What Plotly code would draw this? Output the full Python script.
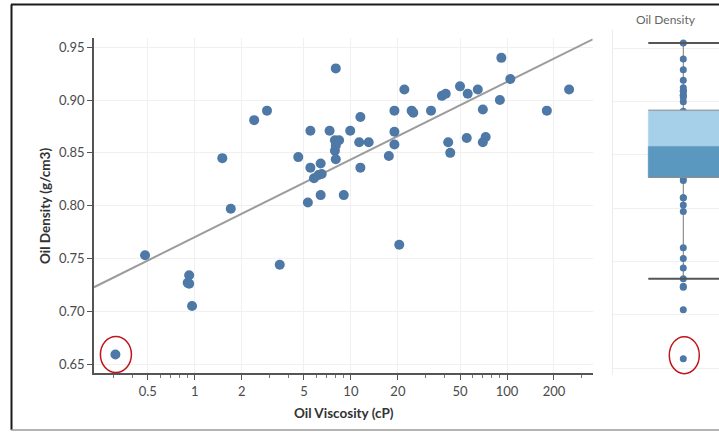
import numpy as np
import plotly.graph_objects as go

# Oil samples: viscosity (cP) and density (g/cm3)
viscosity = [0.31, 0.48, 0.92, 0.90, 0.92, 0.96, 1.5, 1.7, 2.4, 2.9,
             3.5, 4.6, 5.5, 5.3, 5.5, 5.8, 6.2, 6.5, 6.4, 6.4,
             7.3, 8.0, 7.9, 8.4, 8.0, 7.9, 8.0, 9.0, 9.9, 11.3,
             11.5, 11.5, 13.0, 17.5, 19.0, 19.0, 19.0, 20.4, 22.0, 24.5,
             25.1, 32.6, 38.3, 40.5, 42.0, 43.3, 50.0, 55.2, 56.0, 65.0,
             70.0, 70.0, 73.0, 90.0, 92.0, 105.0, 180.0, 250.0]
density = [0.659, 0.753, 0.734, 0.727, 0.726, 0.705, 0.845, 0.797, 0.881, 0.890,
           0.744, 0.846, 0.871, 0.803, 0.836, 0.826, 0.829, 0.830, 0.840, 0.810,
           0.871, 0.930, 0.862, 0.862, 0.857, 0.852, 0.844, 0.810, 0.871, 0.860,
           0.884, 0.836, 0.860, 0.847, 0.890, 0.870, 0.858, 0.763, 0.910, 0.890,
           0.888, 0.890, 0.904, 0.906, 0.860, 0.850, 0.913, 0.864, 0.906, 0.910,
           0.891, 0.860, 0.865, 0.900, 0.940, 0.920, 0.890, 0.910]
# samples with a density but no viscosity measurement
density_only = [0.955]

# logarithmic trend: density = trend_intercept + trend_slope * log10(viscosity)
trend_intercept = 0.7702
trend_slope = 0.0735

# box plot summary of all densities
box_q1 = 0.829
box_median = 0.858
box_q3 = 0.892
whisker_low = 0.734
whisker_high = 0.955

x_ticks = [0.5, 1, 2, 5, 10, 20, 50, 100, 200]
x_tick_text = ["0.5", "1", "2", "5", "10", "20", "50", "100", "200"]
x_minor_ticks = [0.3, 0.4, 0.6, 0.7, 0.8, 0.9, 3, 4, 6, 7, 8, 9,
                 30, 40, 60, 70, 80, 90, 300]
y_ticks = [0.65, 0.70, 0.75, 0.80, 0.85, 0.90, 0.95]

DOT = "#4e79a7"
W, H = 719, 432
ML, MR, MT, MB = 94, 0, 30, 57
PW, PH = W - ML - MR, H - MT - MB

X_RANGE = [np.log10(0.226), np.log10(354)]
Y_RANGE = [0.6412, 0.9588]
X_DOM = [0.0, (592.7 - ML) / PW]
Y_DOM = [(MT + PH - 373.3) / PH, (MT + PH - 38) / PH]
X2_DOM = [(612.7 - ML) / PW, 1.0]
X2_RANGE = [-2.017, 1.02]
Y2_RANGE = [0.6437, 0.9672]


def px_x(p):
    return (p - ML) / PW


def px_y(p):
    return (MT + PH - p) / PH


fig = go.Figure()

tx = np.array([10 ** X_RANGE[0], 10 ** X_RANGE[1]])
fig.add_trace(go.Scatter(x=tx, y=trend_intercept + trend_slope * np.log10(tx),
                         mode="lines", line=dict(color="#9c9c9c", width=2),
                         hoverinfo="skip"))

fig.add_trace(go.Scatter(x=viscosity, y=density, mode="markers",
                         marker=dict(color=DOT, size=10), hoverinfo="x+y"))

# box plot panel: whisker, all samples, two-tone box, box edges, caps
all_density = density + density_only
fig.add_trace(go.Scatter(x=[0, 0], y=[whisker_low, whisker_high], mode="lines",
                         line=dict(color="#7a7a7a", width=1),
                         xaxis="x2", yaxis="y2", hoverinfo="skip"))
fig.add_trace(go.Scatter(x=[0] * len(all_density), y=all_density, mode="markers",
                         marker=dict(color=DOT, size=7),
                         xaxis="x2", yaxis="y2", hoverinfo="y"))
# light upper half drawn over the full box, darker lower half on top of it
for lo, hi, colour in ((box_q1, box_q3, "#a6d0ea"),
                       (box_q1, box_median, "#5a98bf")):
    fig.add_trace(go.Scatter(x=[-1, 1.05, 1.05, -1, -1], y=[lo, lo, hi, hi, lo],
                             mode="lines", fill="toself", fillcolor=colour,
                             line=dict(width=0.5, color=colour),
                             xaxis="x2", yaxis="y2", hoverinfo="skip"))
for edge in (box_q1, box_q3):
    fig.add_trace(go.Scatter(x=[-1, 1.05], y=[edge, edge], mode="lines",
                             line=dict(color="#8c8c8c", width=1),
                             xaxis="x2", yaxis="y2", hoverinfo="skip"))
for cap in (whisker_low, whisker_high):
    fig.add_trace(go.Scatter(x=[-1, 1.05], y=[cap, cap], mode="lines",
                             line=dict(color="#555555", width=2),
                             xaxis="x2", yaxis="y2", hoverinfo="skip"))

axis_font = dict(family="Lato, Open Sans, sans-serif", size=13, color="#4a4a4a")
fig.update_layout(
    width=W, height=H,
    margin=dict(l=ML, r=MR, t=MT, b=MB),
    paper_bgcolor="white", plot_bgcolor="white",
    showlegend=False,
    font=dict(family="Lato, Open Sans, sans-serif"),
    xaxis=dict(type="log", domain=X_DOM, range=X_RANGE,
               tickvals=x_ticks, ticktext=x_tick_text, tickfont=axis_font,
               ticks="outside", ticklen=5, tickcolor="#555555",
               showline=True, linecolor="#555555", linewidth=1.5,
               showgrid=True, gridcolor="#f0f0f0", zeroline=False,
               minor=dict(tickvals=x_minor_ticks, ticks="outside", ticklen=3,
                          tickcolor="#777777", showgrid=False)),
    yaxis=dict(domain=Y_DOM, range=Y_RANGE, tickvals=y_ticks, tickformat=".2f",
               tickfont=axis_font, ticks="outside", ticklen=5, tickcolor="#555555",
               showline=True, linecolor="#555555", linewidth=1.5,
               showgrid=True, gridcolor="#f0f0f0", zeroline=False),
    xaxis2=dict(domain=X2_DOM, range=X2_RANGE, anchor="y2", visible=False),
    yaxis2=dict(domain=[0, 1], range=Y2_RANGE, anchor="x2", tickvals=y_ticks,
                showticklabels=False, ticks="", showline=True,
                linecolor="#ececec", linewidth=1,
                showgrid=True, gridcolor="#f0f0f0", zeroline=False),
)

# axis titles and panel title
fig.add_annotation(text="<b>Oil Viscosity (cP)</b>", xref="paper", yref="paper",
                   x=px_x(343.5), y=px_y(413), xanchor="center", yanchor="middle",
                   showarrow=False, font=dict(size=13.5, color="#333333"))
fig.add_annotation(text="<b>Oil Density (g/cm3)</b>", xref="paper", yref="paper",
                   x=px_x(45), y=px_y(206), xanchor="center", yanchor="middle",
                   showarrow=False, textangle=-90,
                   font=dict(size=13.5, color="#333333"))
fig.add_annotation(text="Oil Density", xref="paper", yref="paper",
                   x=(X2_DOM[0] + X2_DOM[1]) / 2, y=px_y(19.5),
                   xanchor="center", yanchor="middle", showarrow=False,
                   font=dict(size=12, color="#666666"))

# outer frame
fig.add_shape(type="line", xref="paper", yref="paper",
              x0=px_x(11), x1=1.0, y0=px_y(4.5), y1=px_y(4.5),
              line=dict(color="#1a1a1a", width=2))
fig.add_shape(type="line", xref="paper", yref="paper",
              x0=px_x(11.5), x1=px_x(11.5), y0=px_y(4.5), y1=px_y(430),
              line=dict(color="#1a1a1a", width=2))
fig.add_shape(type="line", xref="paper", yref="paper",
              x0=px_x(11), x1=1.0, y0=px_y(430), y1=px_y(430),
              line=dict(color="#9a9a9a", width=1.5))

# highlight the lowest-density sample in both panels
lowest = int(np.argmin(density))
lx_paper = X_DOM[0] + (np.log10(viscosity[lowest]) - X_RANGE[0]) / \
    (X_RANGE[1] - X_RANGE[0]) * (X_DOM[1] - X_DOM[0])
ly_paper = Y_DOM[0] + (density[lowest] - Y_RANGE[0]) / \
    (Y_RANGE[1] - Y_RANGE[0]) * (Y_DOM[1] - Y_DOM[0])
fig.add_shape(type="circle", xref="paper", yref="paper",
              xsizemode="pixel", ysizemode="pixel",
              xanchor=lx_paper, yanchor=ly_paper,
              x0=-15, x1=16, y0=-18, y1=18,
              line=dict(color="#c0151c", width=1.5))
bx_paper = X2_DOM[0] + (0 - X2_RANGE[0]) / (X2_RANGE[1] - X2_RANGE[0]) * \
    (X2_DOM[1] - X2_DOM[0])
by_paper = (min(all_density) - Y2_RANGE[0]) / (Y2_RANGE[1] - Y2_RANGE[0])
fig.add_shape(type="circle", xref="paper", yref="paper",
              xsizemode="pixel", ysizemode="pixel",
              xanchor=bx_paper, yanchor=by_paper,
              x0=-14, x1=16, y0=-15, y1=22,
              line=dict(color="#c0151c", width=1.5))

fig.write_html("out.html", config={"displayModeBar": False})
